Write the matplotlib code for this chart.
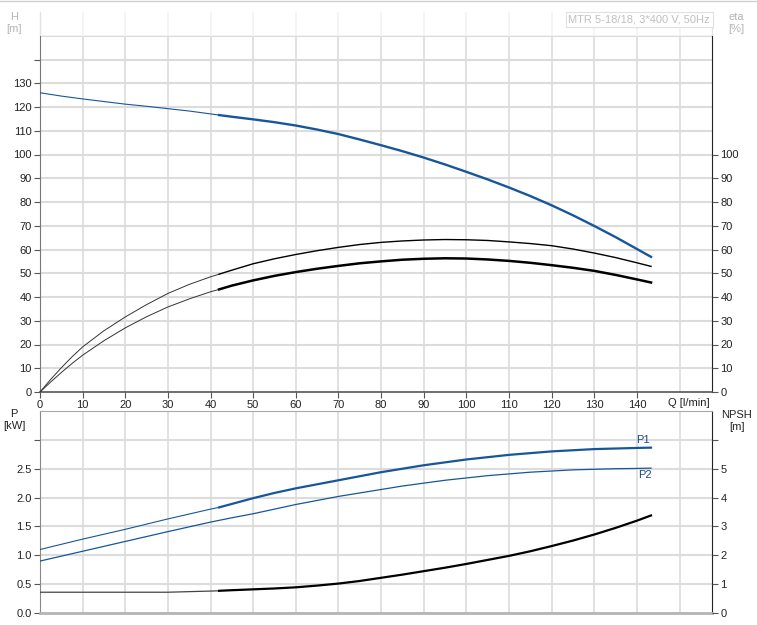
import matplotlib
matplotlib.use("Agg")
import matplotlib.pyplot as plt
import numpy as np

plt.rcParams['font.family'] = ['Liberation Sans', 'DejaVu Sans']
plt.rcParams['font.size'] = 8

# ---------------- data ----------------
Q = [0, 2.5, 5, 7.5, 10, 15, 20, 25, 30, 35, 40, 42, 45, 50, 55, 60, 65, 70, 75, 80,
     85, 90, 95, 100, 105, 110, 115, 120, 125, 130, 135, 140, 143.3]
H = [126.0, 125.3, 124.6, 124.0, 123.4, 122.3, 121.2, 120.3, 119.3, 118.3, 117.1,
     116.6, 115.9, 114.8, 113.6, 112.2, 110.5, 108.6, 106.3, 103.9, 101.4, 98.7, 95.8,
     92.7, 89.5, 86.1, 82.5, 78.6, 74.4, 69.9, 65.2, 60.2, 56.9]
ETA_UP = [0, 5.3, 10.2, 14.8, 19.0, 25.8, 31.6, 36.8, 41.5, 45.3, 48.5, 49.6, 51.3,
          54.0, 56.1, 57.9, 59.5, 60.9, 62.1, 63.0, 63.6, 64.0, 64.2, 64.1, 63.8, 63.2,
          62.5, 61.6, 60.2, 58.5, 56.6, 54.4, 52.9]
ETA_LO = [0, 4.2, 8.2, 12.0, 15.5, 21.6, 27.0, 31.7, 35.8, 39.2, 42.2, 43.2, 44.8,
          47.0, 48.9, 50.5, 51.9, 53.1, 54.2, 55.0, 55.7, 56.1, 56.3, 56.2, 55.8, 55.2,
          54.4, 53.4, 52.3, 51.0, 49.3, 47.4, 46.1]

QP = [0, 10, 20, 30, 40, 42, 45, 50, 55, 60, 65, 70, 75, 80, 85, 90, 95, 100, 105,
      110, 115, 120, 125, 130, 135, 140, 143.3]
P1 = [1.10, 1.28, 1.45, 1.63, 1.80, 1.83, 1.89, 1.99, 2.08, 2.16, 2.23, 2.30, 2.37,
      2.44, 2.50, 2.56, 2.61, 2.66, 2.70, 2.74, 2.77, 2.80, 2.82, 2.84, 2.85, 2.86, 2.865]
P2 = [0.90, 1.07, 1.24, 1.41, 1.575, 1.605, 1.65, 1.72, 1.80, 1.88, 1.95, 2.02, 2.08,
      2.14, 2.20, 2.25, 2.30, 2.34, 2.38, 2.41, 2.44, 2.46, 2.48, 2.49, 2.50, 2.505, 2.51]
NPSH = [0.72, 0.72, 0.72, 0.72, 0.76, 0.77, 0.79, 0.82, 0.85, 0.89, 0.95, 1.02, 1.11,
        1.22, 1.33, 1.45, 1.57, 1.70, 1.84, 1.98, 2.14, 2.32, 2.51, 2.72, 2.95, 3.20, 3.38]

Q_SPLIT = 42
x_ticks = list(range(0, 141, 10))
x_grid = list(range(0, 151, 10))
h_ticks = list(range(0, 141, 10))
h_labels = [str(v) if v <= 130 else '' for v in h_ticks]
eta_ticks = list(range(0, 101, 10))
p_ticks = [0.0, 0.5, 1.0, 1.5, 2.0, 2.5, 3.0]
p_labels = ['0.0', '0.5', '1.0', '1.5', '2.0', '2.5', '']
npsh_ticks = [0, 1, 2, 3, 4, 5, 6]
npsh_labels = ['0', '1', '2', '3', '4', '5', '']
title = "MTR 5-18/18, 3*400 V, 50Hz"

BLUE = '#17569b'
GRID = '#dcdcdc'
TXT = '#222222'

W, Hpx = 757, 625
fig = plt.figure(figsize=(W / 100, Hpx / 100), dpi=100)


def fr(x0, y0, x1, y1):
    return [x0 / W, 1 - y1 / Hpx, (x1 - x0) / W, (y1 - y0) / Hpx]


def split(xs, ys):
    xs = np.asarray(xs, float); ys = np.asarray(ys, float)
    a = xs <= Q_SPLIT
    b = xs >= Q_SPLIT
    return (xs[a], ys[a]), (xs[b], ys[b])


XMAX = 157.6

# ---------------- top axes ----------------
ax = fig.add_axes(fr(40, 12, 712, 392))
ax.set_xlim(0, XMAX)
ax.set_ylim(0, 160)
ax.set_axisbelow(True)
for v in x_grid:
    ax.axvline(v, color=GRID, lw=1.2, zorder=0.5)
for v in range(10, 151, 10):
    ax.axhline(v, color=GRID, lw=1.5, zorder=0.5)
ax.axhspan(150, 160, color='white', alpha=0.65, zorder=0.8, lw=0)

ax.set_xticks(x_ticks)
ax.set_xticklabels([str(v) for v in x_ticks])
ax.set_yticks(h_ticks)
ax.set_yticklabels(h_labels)
ax.tick_params(axis='both', direction='out', length=4, width=0.8, colors='#555555',
               labelcolor=TXT, labelsize=8, pad=2)
ax.spines['top'].set_visible(False)
ax.spines['left'].set_bounds(0, 150)
ax.spines['left'].set_color('#777777')
ax.spines['right'].set_bounds(0, 150)
ax.spines['right'].set_color('#222222')
ax.spines['bottom'].set_color('#555555')
ax.spines['bottom'].set_linewidth(1.2)
ax.plot([0, 0], [150, 160], color='#e2e2e2', lw=1, clip_on=False, zorder=1)
ax.plot([XMAX, XMAX], [150, 160], color='#e2e2e2', lw=1, clip_on=False, zorder=1)

(a, b) = split(Q, H)
ax.plot(*a, color=BLUE, lw=0.8, zorder=3)
ax.plot(*b, color=BLUE, lw=1.7, zorder=3)
(a, b) = split(Q, ETA_UP)
ax.plot(*a, color='#333333', lw=0.7, zorder=3)
ax.plot(*b, color='black', lw=1.0, zorder=3)
(a, b) = split(Q, ETA_LO)
ax.plot(*a, color='#333333', lw=0.7, zorder=3)
ax.plot(*b, color='black', lw=1.8, zorder=3)

axr = ax.twinx()
axr.set_ylim(0, 160)
axr.set_yticks(eta_ticks)
axr.set_yticklabels([str(v) for v in eta_ticks])
axr.tick_params(axis='y', direction='out', length=4, width=0.8, colors='#555555',
                labelcolor=TXT, labelsize=8, pad=2)
for s in ['top', 'left', 'bottom', 'right']:
    axr.spines[s].set_visible(False)

fig.text(14 / W, 1 - 22.5 / Hpx, "H\n[m]", ha='center', va='center', color='#b4b4b4',
         fontsize=8, linespacing=1.25)
fig.text(736 / W, 1 - 23 / Hpx, "eta\n[%]", ha='center', va='center', color='#b4b4b4',
         fontsize=8, linespacing=1.25)
fig.text(710 / W, 1 - 19.5 / Hpx, title, ha='right', va='center', color='#c0c0c0',
         fontsize=8,
         bbox=dict(boxstyle='square,pad=0.25', fc='white', ec='#e0e0e0', lw=0.8))
fig.text(689 / W, 1 - 403 / Hpx, "Q [l/min]", ha='center', va='center', color=TXT,
         fontsize=8)
fig.add_artist(plt.Line2D([0, 1], [1 - 0.5 / Hpx, 1 - 0.5 / Hpx], color='#d0d0d0', lw=1))

# ---------------- lower axes ----------------
bx = fig.add_axes(fr(40, 411, 712, 613))
bx.set_xlim(0, XMAX)
bx.set_ylim(0, 3.5)
for v in x_grid:
    bx.axvline(v, color=GRID, lw=1.2, zorder=0.5)
for v in p_ticks[1:]:
    bx.axhline(v, color=GRID, lw=1.5, zorder=0.5)
bx.set_xticks([])
bx.set_yticks(p_ticks)
bx.set_yticklabels(p_labels)
bx.tick_params(axis='y', direction='out', length=4, width=0.8, colors='#555555',
               labelcolor=TXT, labelsize=8, pad=2)
bx.spines['top'].set_color('#a8a8a8')
bx.spines['left'].set_color('#888888')
bx.spines['right'].set_color('#222222')
bx.spines['bottom'].set_color('#b4b4b4')
bx.spines['bottom'].set_linewidth(2)

(a, b) = split(QP, P1)
bx.plot(*a, color=BLUE, lw=0.8, zorder=3)
bx.plot(*b, color=BLUE, lw=1.6, zorder=3)
bx.plot(QP, P2, color=BLUE, lw=0.9, zorder=3)

bxr = bx.twinx()
bxr.set_ylim(0, 7)
bxr.set_yticks(npsh_ticks)
bxr.set_yticklabels(npsh_labels)
bxr.tick_params(axis='y', direction='out', length=4, width=0.8, colors='#555555',
                labelcolor=TXT, labelsize=8, pad=2)
for s in ['top', 'left', 'bottom', 'right']:
    bxr.spines[s].set_visible(False)
(a, b) = split(QP, NPSH)
bxr.plot(*a, color='#444444', lw=0.9, zorder=3)
bxr.plot(*b, color='black', lw=1.6, zorder=3)

bx.text(141.4, P1[-1] + 0.04, "P1", ha='center', va='bottom', color='#1f4a7a',
        fontsize=8)
bx.text(141.9, P2[-1] - 0.04, "P2", ha='center', va='top', color='#1f4a7a',
        fontsize=8)

fig.text(14 / W, 1 - 420 / Hpx, "P\n[kW]", ha='center', va='center', color=TXT,
         fontsize=8, linespacing=1.25)
fig.text(737 / W, 1 - 421 / Hpx, "NPSH\n[m]", ha='center', va='center', color=TXT,
         fontsize=8, linespacing=1.25)

fig.savefig("out.png", dpi=100, facecolor='white')
